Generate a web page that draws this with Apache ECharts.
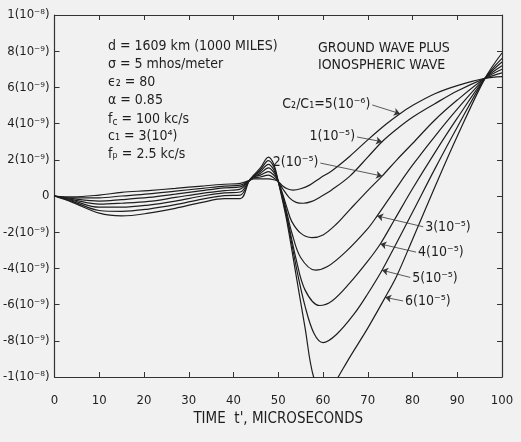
<!DOCTYPE html>
<html>
<head>
<meta charset="utf-8">
<script src="https://cdn.jsdelivr.net/npm/echarts@6/dist/echarts.min.js"></script>
<style>
html,body{margin:0;padding:0;background:#f1f1f1;}
#chart{width:521px;height:442px;}
</style>
</head>
<body>
<div id="chart"></div>
<script>
// ---- data (values in units of 10^-9) ----
const xTicks = [0, 10, 20, 30, 40, 50, 60, 70, 80, 90, 100];
const yTicks = [-10, -8, -6, -4, -2, 0, 2, 4, 6, 8, 10];
const curveNames = ['5(10⁻⁶)', '1(10⁻⁵)', '2(10⁻⁵)', '3(10⁻⁵)', '4(10⁻⁵)', '5(10⁻⁵)', '6(10⁻⁵)'];

const earlyT = [0, 4, 10, 15, 21, 27, 33, 38, 41.5, 43.5, 44.5, 46, 47.8, 49, 50];
const c1Early = [0, -0.05, 0.05, 0.2, 0.3, 0.42, 0.55, 0.65, 0.7, 0.85, 0.95, 0.95, 0.95, 0.9, 0.8];
const c2Early = [0, -0.1, -0.1, 0.0, 0.12, 0.27, 0.42, 0.55, 0.6, 0.85, 1.0, 1.05, 1.15, 1.0, 0.8];
const c3Early = [0, -0.15, -0.28, -0.2, -0.08, 0.1, 0.3, 0.45, 0.5, 0.85, 1.05, 1.15, 1.35, 1.15, 0.8];
const c4Early = [0, -0.2, -0.45, -0.4, -0.3, -0.08, 0.15, 0.3, 0.38, 0.85, 1.05, 1.25, 1.55, 1.3, 0.8];
const c5Early = [0, -0.25, -0.62, -0.62, -0.5, -0.28, 0.0, 0.17, 0.22, 0.85, 1.1, 1.35, 1.75, 1.45, 0.8];
const c6Early = [0, -0.3, -0.8, -0.85, -0.72, -0.48, -0.17, 0.02, 0.05, 0.85, 1.1, 1.45, 1.95, 1.6, 0.8];
const c7Early = [0, -0.35, -0.95, -1.1, -0.95, -0.68, -0.35, -0.15, -0.15, 0.85, 1.15, 1.55, 2.15, 1.75, 0.8];

const c1LateT = [51, 52, 53.3, 55, 57, 59.4, 62, 66, 70, 74, 77.2, 80, 85, 90, 96.2, 100];
const c1LateV = [0.55, 0.4, 0.33, 0.4, 0.6, 1.0, 1.4, 2.2, 3.1, 3.95, 4.55, 5.0, 5.65, 6.1, 6.5, 6.6];
const c2LateT = [51, 52.5, 54, 55.6, 57.5, 59.4, 62, 66, 70, 73.2, 76.5, 80, 85, 90, 96.2, 100];
const c2LateV = [0.4, -0.1, -0.35, -0.4, -0.3, -0.05, 0.35, 1.1, 2.15, 3.0, 3.7, 4.35, 5.1, 5.8, 6.5, 6.8];
const c3LateT = [51, 52, 53, 55, 57.5, 60, 63, 66, 70, 73.2, 76.5, 80, 85, 90, 96.2, 100];
const c3LateV = [0.1, -0.7, -1.4, -2.05, -2.3, -2.15, -1.55, -0.75, 0.3, 1.1, 2.0, 2.9, 4.2, 5.3, 6.5, 7.0];
const c4LateT = [51, 52, 53, 55, 58.3, 61, 65, 70, 72.1, 76, 80, 85, 90, 96.2, 100];
const c4LateV = [0.0, -1.0, -2.0, -3.4, -4.1, -3.9, -3.1, -1.8, -1.1, 0.3, 1.7, 3.3, 4.8, 6.5, 7.2];
const c5LateT = [51, 52, 54, 56, 59.2, 62, 66, 70, 72.8, 76, 80, 85, 90, 96.2, 100];
const c5LateV = [-0.1, -1.2, -3.5, -5.2, -6.05, -5.8, -4.8, -3.6, -2.65, -1.3, 0.4, 2.4, 4.3, 6.5, 7.4];
const c6LateT = [51, 52, 54, 56, 58, 60, 63, 67, 70, 73.2, 76, 80, 85, 90, 96.2, 100];
const c6LateV = [-0.2, -1.3, -3.9, -6.1, -7.6, -8.1, -7.65, -6.5, -5.4, -4.1, -2.8, -0.9, 1.5, 3.8, 6.5, 7.6];
const c7LateT = [51, 52, 54, 56, 57.9, 60.5, 63.4, 66, 70, 73.9, 76.5, 80, 85, 90, 96.2, 100];
const c7LateV = [-0.3, -1.5, -4.4, -7.3, -10, -11.2, -10, -8.9, -7.3, -5.6, -4.4, -2.4, 0.5, 3.3, 6.5, 7.9];

const curves = [
  [c1Early, c1LateT, c1LateV],
  [c2Early, c2LateT, c2LateV],
  [c3Early, c3LateT, c3LateV],
  [c4Early, c4LateT, c4LateV],
  [c5Early, c5LateT, c5LateV],
  [c6Early, c6LateT, c6LateV],
  [c7Early, c7LateT, c7LateV]
];

// label pointer: [label anchor (t, v), arrow point on curve (t, v)]
const labelTexts = ['C₂/C₁=5(10⁻⁶)', '1(10⁻⁵)', '2(10⁻⁵)', '3(10⁻⁵)', '4(10⁻⁵)', '5(10⁻⁵)', '6(10⁻⁵)'];
const labelFrom = [[71.0, 5.03], [67.6, 3.26], [59.4, 1.82], [82.4, -1.7], [80.8, -3.1], [79.5, -4.5], [77.9, -5.8]];
const labelTo = [[77.2, 4.55], [73.2, 3.0], [73.2, 1.1], [72.1, -1.1], [72.8, -2.65], [73.2, -4.1], [73.9, -5.6]];

const FONT = "'DejaVu Sans Condensed', 'DejaVu Sans', sans-serif";
const INK = '#1e1e1e';

function yLabel(v) {
  if (v === 0) return '0';
  if (v === 10) return '1(10⁻⁸)';
  if (v === -10) return '-1(10⁻⁸)';
  return v + '(10⁻⁹)';
}

const series = curves.map(function (c, i) {
  const data = earlyT.map(function (t, k) { return [t, c[0][k]]; })
    .concat(c[1].map(function (t, k) { return [t, c[2][k]]; }));
  return {
    type: 'line',
    name: curveNames[i],
    data: data,
    smooth: 0.35,
    showSymbol: false,
    clip: true,
    lineStyle: { color: INK, width: 1.2 },
    emphasis: { disabled: true },
    markLine: {
      silent: true,
      symbol: ['none', 'arrow'],
      symbolSize: 6,
      lineStyle: { color: '#333', width: 0.8, type: 'solid' },
      label: {
        show: true,
        position: 'start',
        formatter: labelTexts[i],
        color: INK,
        fontFamily: FONT,
        fontSize: 14,
        distance: 2
      },
      data: [[{ coord: labelFrom[i] }, { coord: labelTo[i] }]]
    }
  };
});

const chart = echarts.init(document.getElementById('chart'), null, { renderer: 'canvas' });

const tickStyle = { show: true, inside: true, length: 5, lineStyle: { color: '#333', width: 1 } };
const axisLine = { show: true, onZero: false, lineStyle: { color: '#333', width: 1.2 } };

chart.setOption({
  backgroundColor: '#f1f1f1',
  animation: false,
  grid: { left: 54, right: 19, top: 15, bottom: 65, containLabel: false },
  xAxis: [
    {
      type: 'value', min: 0, max: 100, interval: 10, position: 'bottom',
      axisLine: axisLine, axisTick: tickStyle, splitLine: { show: false },
      axisLabel: { color: INK, fontFamily: FONT, fontSize: 13, margin: 17 },
      name: "TIME  t', MICROSECONDS", nameLocation: 'middle', nameGap: 33,
      nameTextStyle: { color: INK, fontFamily: FONT, fontSize: 15 }
    },
    {
      type: 'value', min: 0, max: 100, interval: 10, position: 'top',
      axisLine: axisLine, axisTick: tickStyle, splitLine: { show: false },
      axisLabel: { show: false }
    }
  ],
  yAxis: [
    {
      type: 'value', min: -10, max: 10, interval: 2, position: 'left',
      axisLine: axisLine, axisTick: tickStyle, splitLine: { show: false },
      axisLabel: { color: INK, fontFamily: FONT, fontSize: 13, margin: 5, formatter: yLabel }
    },
    {
      type: 'value', min: -10, max: 10, interval: 2, position: 'right',
      axisLine: axisLine, axisTick: tickStyle, splitLine: { show: false },
      axisLabel: { show: false }
    }
  ],
  graphic: [
    {
      type: 'group', left: 108, top: 39,
      children: [
        { type: 'text', x: 0, y: 0, style: { text: 'd = 1609 km (1000 MILES)', font: '14px ' + FONT, fill: INK } },
        { type: 'text', x: 0, y: 18, style: { text: 'σ = 5 mhos/meter', font: '14px ' + FONT, fill: INK } },
        { type: 'text', x: 0, y: 36, style: { text: 'ϵ₂ = 80', font: '14px ' + FONT, fill: INK } },
        { type: 'text', x: 0, y: 54, style: { text: 'α = 0.85', font: '14px ' + FONT, fill: INK } },
        { type: 'text', x: 0, y: 72, style: { text: '{n|f}{s|c}{n| = 100 kc/s}', rich: { n: { fontSize: 14, fontFamily: FONT, fill: INK }, s: { fontSize: 10, fontFamily: FONT, fill: INK, padding: [6, 0, 0, 0] } } } },
        { type: 'text', x: 0, y: 90, style: { text: 'c₁ = 3(10⁴)', font: '14px ' + FONT, fill: INK } },
        { type: 'text', x: 0, y: 108, style: { text: 'fₚ = 2.5 kc/s', font: '14px ' + FONT, fill: INK } }
      ]
    },
    { type: 'text', left: 318, top: 41, style: { text: 'GROUND WAVE PLUS', font: '14px ' + FONT, fill: INK } },
    { type: 'text', left: 318, top: 58, style: { text: 'IONOSPHERIC WAVE', font: '14px ' + FONT, fill: INK } }
  ],
  series: series
});
</script>
</body>
</html>
